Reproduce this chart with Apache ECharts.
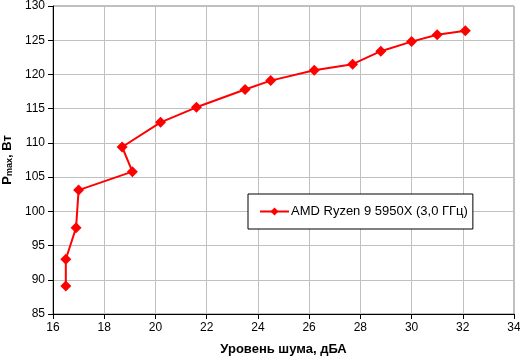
<!DOCTYPE html>
<html>
<head>
<meta charset="utf-8">
<script src="https://cdn.jsdelivr.net/npm/echarts@6/dist/echarts.min.js"></script>
<style>html,body{margin:0;padding:0;background:#fff}#c{width:520px;height:357px}</style>
</head>
<body>
<div id="c"></div>
<script>
const seriesName = 'AMD Ryzen 9 5950X (3,0 ГГц)';
const noise = [16.5, 16.5, 16.9, 17.0, 19.1, 18.7, 20.2, 21.6, 23.5, 24.5, 26.2, 27.7, 28.8, 30.0, 31.0, 32.1];
const power = [89.1, 93.0, 97.6, 103.1, 105.8, 109.4, 113.0, 115.2, 117.8, 119.1, 120.6, 121.5, 123.4, 124.8, 125.8, 126.4];
const xTitle = 'Уровень шума, дБА';
const yTitle = ['P', 'max', ', Вт'];

const chart = echarts.init(document.getElementById('c'), null, {renderer: 'canvas'});
const font = 'Liberation Sans, Arial, sans-serif';
chart.setOption({
  animation: false,
  backgroundColor: '#fff',
  grid: {left: 53, right: 6, top: 6, bottom: 43, show: true, borderColor: '#808080', borderWidth: 1,
         containLabel: false, outerBoundsMode: 'none'},
  xAxis: {
    type: 'value', min: 16, max: 34, interval: 2,
    axisLine: {lineStyle: {color: '#000', width: 1}},
    axisTick: {show: true, length: 5, lineStyle: {color: '#000'}},
    axisLabel: {color: '#000', fontFamily: font, fontSize: 12, margin: 8},
    splitLine: {lineStyle: {color: '#c0c0c0', width: 1}},
    name: xTitle, nameLocation: 'middle', nameGap: 29,
    nameTextStyle: {color: '#000', fontFamily: font, fontSize: 13, fontWeight: 'bold'}
  },
  yAxis: {
    type: 'value', min: 85, max: 130, interval: 5,
    axisLine: {show: true, lineStyle: {color: '#000', width: 1}},
    axisTick: {show: true, length: 5, lineStyle: {color: '#000'}},
    axisLabel: {color: '#000', fontFamily: font, fontSize: 12, margin: 8},
    splitLine: {lineStyle: {color: '#c0c0c0', width: 1}},
    name: '{a|' + yTitle[0] + '}{b|' + yTitle[1] + '}{a|' + yTitle[2] + '}',
    nameLocation: 'middle', nameGap: 39, nameRotate: 90,
    nameTextStyle: {
      color: '#000', fontFamily: font,
      rich: {
        a: {fontSize: 13, fontWeight: 'bold', fontFamily: font, color: '#000'},
        b: {fontSize: 9, fontWeight: 'bold', fontFamily: font, color: '#000', padding: [5, 0, 0, 0]}
      }
    }
  },
  legend: {
    show: true, left: 248, top: 194,
    padding: [11, 5, 11, 11],
    borderColor: '#000', borderWidth: 1, backgroundColor: '#fff',
    itemWidth: 29, itemHeight: 10, itemGap: 0,
    textStyle: {color: '#000', fontFamily: font, fontSize: 13, padding: [0, 0, 0, -3]},
    data: [{name: seriesName}]
  },
  series: [{
    name: seriesName, type: 'line',
    data: noise.map((x, i) => [x, power[i]]),
    symbol: 'diamond', symbolSize: 11,
    lineStyle: {color: '#ff0000', width: 2},
    itemStyle: {color: '#ff0000'},
    z: 5
  }]
});
</script>
</body>
</html>
